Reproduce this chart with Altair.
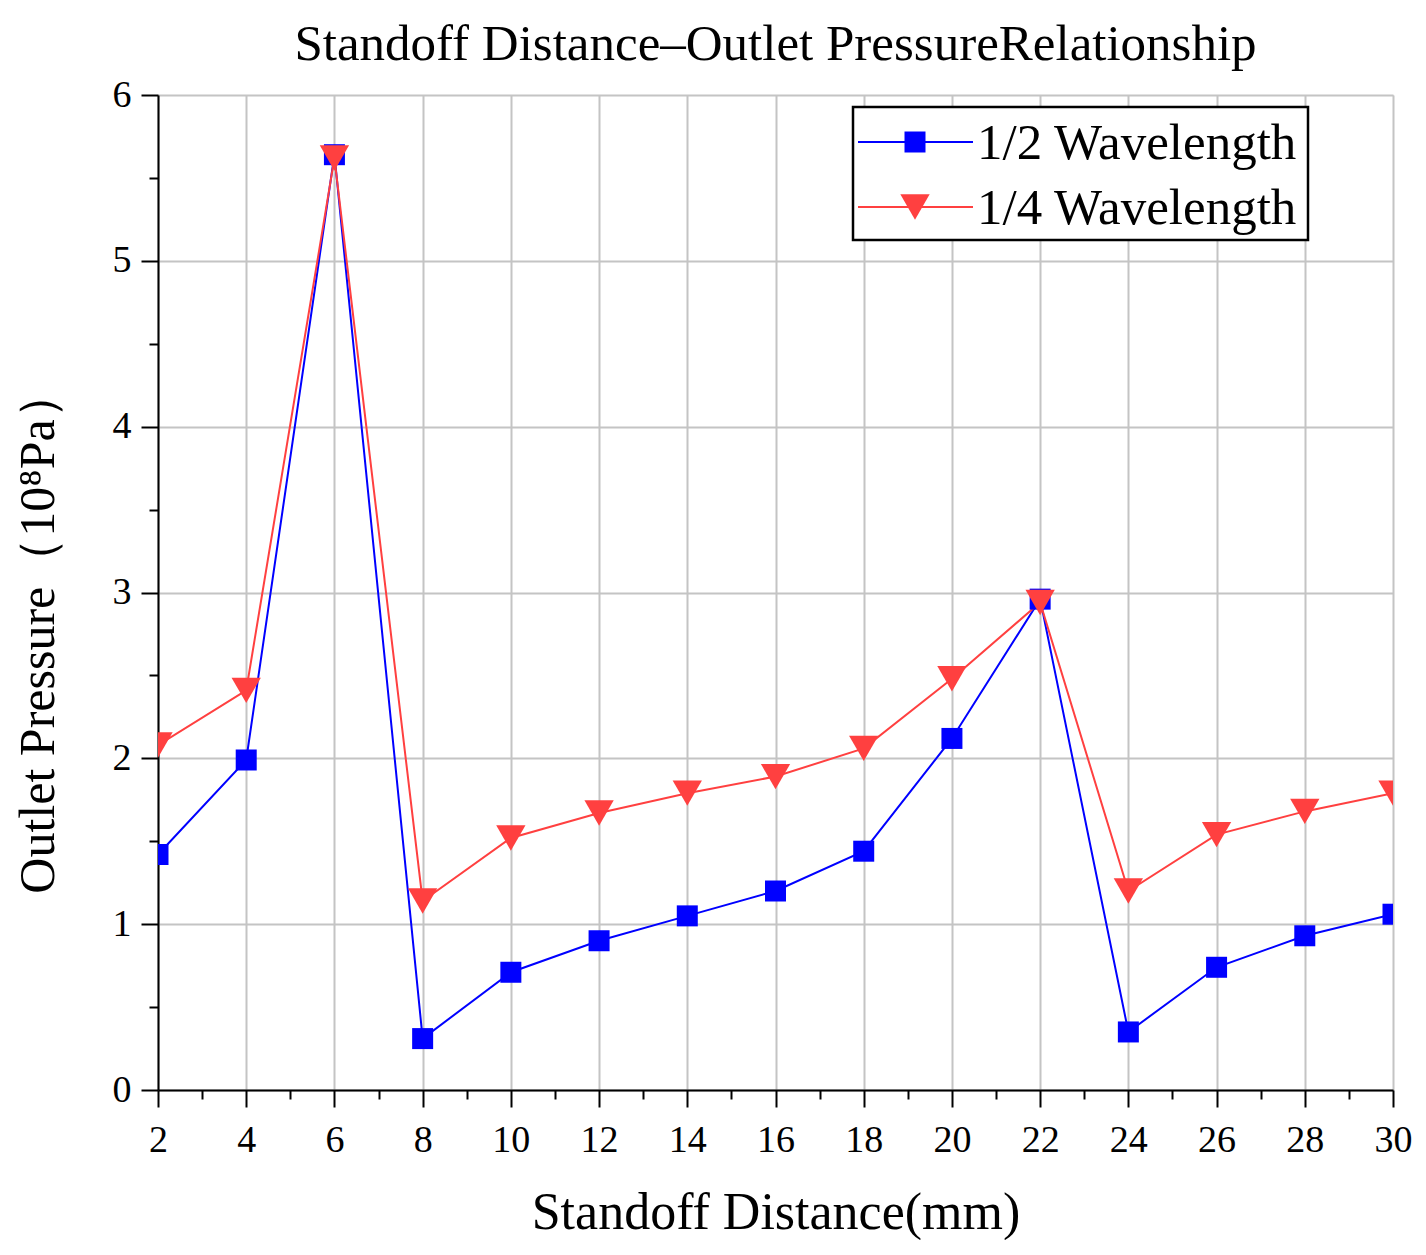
import altair as alt
import pandas as pd

# ---------------- data ----------------
distance = [2, 4, 6, 8, 10, 12, 14, 16, 18, 20, 22, 24, 26, 28, 30]
half_wave = [1.42, 1.99, 5.64, 0.31, 0.71, 0.90, 1.05, 1.20, 1.44, 2.12, 2.96, 0.35, 0.74, 0.93, 1.06]
quarter_wave = [2.08, 2.41, 5.62, 1.14, 1.52, 1.67, 1.79, 1.89, 2.06, 2.48, 2.94, 1.20, 1.54, 1.68, 1.79]

series_names = ["1/2 Wavelength", "1/4 Wavelength"]
series_colors = ["#0000FF", "#FF4040"]
series_shapes = ["square", "triangle-down"]
series_sizes = [441, 860]

x_major = [2, 4, 6, 8, 10, 12, 14, 16, 18, 20, 22, 24, 26, 28, 30]
x_minor = [3, 5, 7, 9, 11, 13, 15, 17, 19, 21, 23, 25, 27, 29]
y_major = [0, 1, 2, 3, 4, 5, 6]
y_minor = [0.5, 1.5, 2.5, 3.5, 4.5, 5.5]

title_text = ["Standoff Distance\u2013Outlet PressureRelationship"]
x_title = "Standoff Distance(mm)"
y_title = "Outlet Pressure\uff0810\u2078Pa\uff09"

rows = []
for name, vals in zip(series_names, [half_wave, quarter_wave]):
    for d, v in zip(distance, vals):
        rows.append({"distance": d, "pressure": v, "series": name})
df = pd.DataFrame(rows)
legend_df = pd.DataFrame({"series": series_names})
title_df = pd.DataFrame({"title": title_text})

SERIF = "Liberation Serif"
W, H = 1235, 995

x_scale = alt.Scale(domain=[2, 30], nice=False, zero=False)
y_scale = alt.Scale(domain=[0, 6], nice=False)

color = alt.Color("series:N", scale=alt.Scale(domain=series_names, range=series_colors), legend=None)
shape = alt.Shape("series:N", scale=alt.Scale(domain=series_names, range=series_shapes), legend=None)
size = alt.Size("series:N", scale=alt.Scale(domain=series_names, range=series_sizes), legend=None)

x_axis = alt.Axis(
    values=x_major, orient="bottom", title=x_title,
    grid=True, gridColor="#c4c4c4", gridWidth=2,
    tickSize=17, tickWidth=2, tickColor="black",
    domainColor="black", domainWidth=2,
    labelFont=SERIF, labelFontSize=38, labelColor="black", labelPadding=14,
    labelFlush=False, labelOverlap=False,
    titleFont=SERIF, titleFontSize=52, titleFontWeight="normal", titleColor="black",
    titleY=138, titleBaseline="alphabetic",
)
y_axis = alt.Axis(
    values=y_major, orient="left", title=y_title,
    grid=True, gridColor="#c4c4c4", gridWidth=2,
    tickSize=17, tickWidth=2, tickColor="black",
    domainColor="black", domainWidth=2,
    labelFont=SERIF, labelFontSize=38, labelColor="black", labelPadding=10,
    labelFlush=False, labelOverlap=False,
    titleFont=SERIF, titleFontSize=50, titleFontWeight="normal", titleColor="black",
    titleAngle=270, titleX=-120, titleY=536, titleAlign="center", titleBaseline="middle",
)

base = alt.Chart(df)

lines = base.mark_line(strokeWidth=2, clip=True).encode(
    x=alt.X("distance:Q", scale=x_scale, axis=x_axis),
    y=alt.Y("pressure:Q", scale=y_scale, axis=y_axis),
    color=color,
)

points = base.mark_point(filled=True, opacity=1, clip=True).encode(
    x=alt.X("distance:Q", scale=x_scale, axis=None),
    y=alt.Y("pressure:Q", scale=y_scale, axis=None),
    color=color, shape=shape, size=size,
)

minor = base.mark_point(opacity=0).encode(
    x=alt.X("distance:Q", scale=x_scale, axis=alt.Axis(
        values=x_minor, orient="bottom", labels=False, grid=False, domain=False,
        tickSize=9, tickWidth=2, tickColor="black", title=None)),
    y=alt.Y("pressure:Q", scale=y_scale, axis=alt.Axis(
        values=y_minor, orient="left", labels=False, grid=False, domain=False,
        tickSize=9, tickWidth=2, tickColor="black", title=None)),
)

# ---------------- chart title (as a text mark above the plot) ----------------
title_mark = alt.Chart(title_df).mark_text(
    align="center", baseline="alphabetic", font=SERIF, fontSize=51, color="black"
).encode(text="title:N", x=alt.value(W / 2), y=alt.value(-35))

# ---------------- legend (drawn inside the plot, top right) ----------------
legend_box = alt.Chart(legend_df).transform_filter(
    alt.datum.series == series_names[0]
).mark_rect(fill="white", stroke="black", strokeWidth=2.5).encode(
    x=alt.value(695), x2=alt.value(1150), y=alt.value(12), y2=alt.value(145)
)

legend_layers = [legend_box]
entry_y = [47, 112]
for name, col, shp, sz, ey in zip(series_names, series_colors, series_shapes, series_sizes, entry_y):
    sub = alt.Chart(legend_df).transform_filter(alt.datum.series == name)
    legend_layers.append(
        sub.mark_rule(color=col, strokeWidth=2).encode(
            x=alt.value(700), x2=alt.value(815), y=alt.value(ey))
    )
    legend_layers.append(
        sub.mark_point(filled=True, opacity=1, color=col, shape=shp, size=sz).encode(
            x=alt.value(757), y=alt.value(ey))
    )
    legend_layers.append(
        sub.mark_text(align="left", baseline="middle", font=SERIF, fontSize=51, color="black").encode(
            text="series:N", x=alt.value(819), y=alt.value(ey + 2))
    )

chart = alt.layer(lines, points, minor, title_mark, *legend_layers).resolve_axis(
    x="independent", y="independent"
).properties(
    width=W,
    height=H,
    autosize=alt.AutoSizeParams(type="none"),
    padding={"left": 150, "top": 87, "right": 25, "bottom": 150},
).configure_view(
    stroke="black", strokeWidth=2
).configure(background="white")

chart.save("out.html", embed_options={"renderer": "svg", "actions": False})
